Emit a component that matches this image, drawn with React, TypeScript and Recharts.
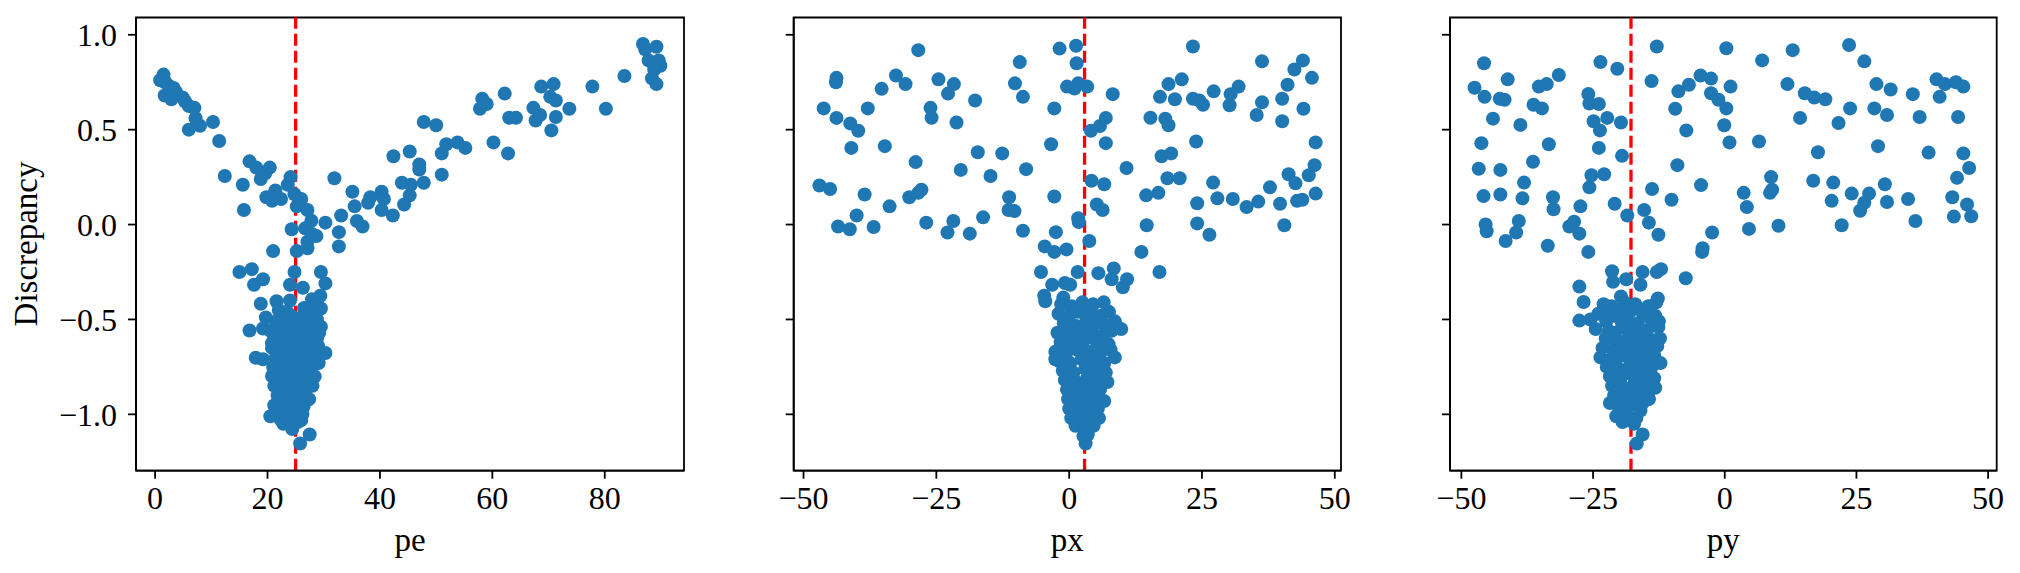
import React from 'react';
import { ScatterChart, Scatter, XAxis, YAxis, ReferenceLine, ReferenceArea } from 'recharts';

// ---------- data ----------
const Y_TICKS = [-1.0, -0.5, 0.0, 0.5, 1.0];
const Y_DOMAIN: [number, number] = [-1.297, 1.091];

const PE_TICKS = [0, 20, 40, 60, 80];
const PE_DOMAIN: [number, number] = [-3.4, 94.1];
const PE_MARK = 25;

const PX_TICKS = [-50, -25, 0, 25, 50];
const PX_DOMAIN: [number, number] = [-51.85, 51.17];
const PX_MARK = 2.9;

const PY_TICKS = [-50, -25, 0, 25, 50];
const PY_DOMAIN: [number, number] = [-52.16, 51.63];
const PY_MARK = -17.8;

const PE_POINTS: [number, number][] = [
  [1.3, 0.77], [1.5, 0.79], [0.9, 0.76], [1.8, 0.75], [2.5, 0.73], [3.3, 0.72], [1.7, 0.68], [2.9, 0.66],
  [3.7, 0.7], [4.9, 0.67], [5.3, 0.65], [6.0, 0.625], [7.0, 0.615], [7.2, 0.56], [8.0, 0.52], [6.0, 0.5],
  [10.3, 0.54], [11.4, 0.44], [12.4, 0.256], [15.6, 0.21], [15.8, 0.077], [16.8, 0.333], [18.0, 0.3],
  [18.8, 0.24], [19.6, 0.27], [20.4, 0.3], [19.8, 0.144], [20.8, 0.125], [21.4, 0.18], [22.4, 0.135],
  [23.6, 0.21], [24.1, 0.25], [24.8, 0.16], [26.0, 0.135], [25.2, 0.096], [27.1, 0.077], [27.8, 0.02],
  [26.7, -0.02], [24.3, -0.025], [27.9, -0.05], [28.7, -0.06], [27.1, -0.09], [25.2, -0.14], [21.0, -0.14],
  [27.1, -0.125], [31.9, 0.244], [30.3, 0.01], [32.7, -0.04], [32.7, -0.115], [33.1, 0.048], [35.1, 0.173],
  [35.5, 0.096], [35.9, 0.019], [36.9, -0.01], [38.3, 0.144], [37.9, 0.115], [40.3, 0.173], [40.3, 0.077],
  [40.7, 0.135], [42.3, 0.048], [42.4, 0.36], [44.3, 0.106], [43.9, 0.22], [45.3, 0.385], [45.3, 0.154],
  [45.5, 0.21], [47.0, 0.317], [47.0, 0.29], [47.8, 0.22], [47.8, 0.54], [50.0, 0.523], [51.0, 0.263],
  [51.0, 0.375], [51.8, 0.423], [53.8, 0.433], [55.2, 0.404], [57.8, 0.61], [58.2, 0.663], [59.0, 0.635],
  [60.2, 0.433], [62.2, 0.69], [62.8, 0.375], [63.0, 0.563], [64.2, 0.563], [67.3, 0.615], [67.7, 0.548],
  [68.5, 0.577], [68.7, 0.727], [70.5, 0.496], [70.9, 0.74], [70.3, 0.673], [71.3, 0.567], [71.3, 0.654],
  [73.7, 0.61], [77.8, 0.727], [80.2, 0.61], [83.5, 0.783], [86.8, 0.952], [87.2, 0.923], [89.2, 0.937],
  [87.8, 0.865], [89.6, 0.865], [88.4, 0.77], [89.2, 0.74], [89.9, 0.837], [88.8, 0.817],
  [15.0, -0.25], [17.2, -0.235], [17.6, -0.317], [19.2, -0.288], [24.8, -0.25], [24.0, -0.317],
  [26.3, -0.333], [29.5, -0.25], [30.3, -0.31], [18.8, -0.417], [21.6, -0.404], [24.0, -0.4], [27.9, -0.394],
  [29.4, -0.375], [29.5, -0.442], [19.7, -0.49], [16.8, -0.558], [19.2, -0.548], [29.5, -0.538], [23.2, -0.5],
  [17.9, -0.702], [19.2, -0.71], [20.8, -0.625], [30.3, -0.677], [29.1, -0.73], [27.9, -0.817], [20.8, -0.798],
  [20.5, -1.01], [21.2, -0.952], [22.4, -1.03], [24.4, -1.077], [26.0, -1.03], [27.5, -1.106], [25.8, -1.154],
  [27.1, -0.923], [23.2, -0.894],
  [22.0, -0.45], [23.5, -0.46], [26.5, -0.44], [27.5, -0.47], [28.5, -0.43],
  [21.5, -0.51], [22.8, -0.5], [24.5, -0.52], [26.0, -0.49], [27.2, -0.51], [28.8, -0.5],
  [20.5, -0.56], [22.0, -0.55], [23.5, -0.57], [25.5, -0.54], [27.0, -0.56], [28.2, -0.55], [29.2, -0.57],
  [21.2, -0.6], [22.6, -0.61], [24.0, -0.59], [26.2, -0.6], [27.6, -0.62], [28.8, -0.6],
  [20.8, -0.65], [22.2, -0.66], [23.6, -0.64], [25.0, -0.65], [26.6, -0.67], [28.0, -0.65], [29.0, -0.64],
  [21.5, -0.7], [23.0, -0.71], [24.4, -0.69], [25.8, -0.7], [27.2, -0.72], [28.4, -0.7],
  [21.0, -0.75], [22.4, -0.76], [23.8, -0.74], [25.2, -0.75], [26.6, -0.77], [27.9, -0.75],
  [21.6, -0.8], [23.0, -0.81], [24.4, -0.79], [25.6, -0.8], [27.0, -0.82], [28.4, -0.8],
  [21.2, -0.85], [22.6, -0.86], [24.0, -0.84], [25.4, -0.85], [26.8, -0.87], [28.0, -0.85],
  [21.8, -0.9], [23.2, -0.91], [24.6, -0.89], [26.0, -0.9], [27.4, -0.92],
  [22.4, -0.95], [23.8, -0.96], [25.2, -0.94], [26.4, -0.96],
  [21.6, -1.0], [23.0, -1.01], [24.6, -0.99], [26.2, -1.0],
  [22.8, -1.05], [24.2, -1.06], [25.4, -1.04],
  [24.2, -0.48], [25.6, -0.58], [22.9, -0.63], [24.8, -0.73], [26.3, -0.83], [22.6, -0.88], [25.0, -0.97],
  [23.9, -1.02], [28.9, -0.72], [27.8, -0.6], [25.3, -0.68], [24.9, -0.82], [23.3, -0.78], [22.0, -0.72],
];

const PX_POINTS: [number, number][] = [
  [-46.2, 0.612], [-47.0, 0.206], [-45.0, 0.187], [-43.8, 0.773], [-43.9, 0.75], [-43.8, 0.562], [-43.5, -0.01],
  [-41.2, 0.533], [-41.0, 0.404], [-41.3, -0.025], [-40.0, 0.048], [-39.7, 0.494], [-38.5, 0.158], [-37.9, 0.612],
  [-36.8, -0.013], [-35.3, 0.715], [-34.7, 0.413], [-33.8, 0.096], [-32.6, 0.785], [-30.8, 0.74], [-30.1, 0.144],
  [-28.9, 0.329], [-28.4, 0.167], [-27.8, 0.183], [-28.4, 0.919], [-26.9, 0.01], [-26.1, 0.615], [-25.9, 0.563],
  [-24.6, 0.765], [-22.8, 0.69], [-21.7, 0.74], [-22.9, -0.042], [-21.8, 0.019], [-21.2, 0.538], [-20.4, 0.288],
  [-18.7, -0.048], [-17.7, 0.654], [-17.2, 0.381], [-16.2, 0.038], [-14.8, 0.256], [-12.6, 0.375], [-11.3, 0.144],
  [-11.4, 0.077], [-10.3, 0.071], [-10.2, 0.744], [-9.3, 0.856], [-8.7, 0.673], [-8.1, 0.292], [-8.7, -0.033],
  [-5.3, -0.25], [-4.6, -0.115], [-4.7, -0.375], [-4.5, -0.404], [-3.4, 0.423], [-3.2, -0.317], [-2.8, 0.612],
  [-2.8, 0.148], [-2.5, -0.04], [-2.8, -0.144], [-1.8, 0.927], [-0.8, -0.308], [-0.5, -0.131], [-0.4, 0.727],
  [0.2, -0.317], [-1.1, -0.385], [1.3, 0.942], [1.4, 0.85], [1.7, 0.744], [1.0, 0.717], [1.6, -0.25], [1.7, 0.033],
  [1.8, 0.013], [3.4, 0.727], [3.8, -0.087], [4.1, 0.494], [4.2, 0.231], [5.2, 0.106], [5.5, -0.256], [5.8, 0.519],
  [6.3, 0.077], [6.6, 0.212], [6.9, 0.562], [6.9, 0.429], [8.2, 0.687], [8.4, -0.231], [8.0, -0.288], [10.1, -0.331],
  [10.9, -0.288], [10.8, 0.298], [13.6, -0.144], [14.5, 0.154], [14.6, -0.004], [15.3, 0.563], [16.8, 0.167],
  [17.0, -0.25], [17.1, 0.673], [17.4, 0.36], [18.1, 0.558], [18.7, 0.74], [18.7, 0.523], [18.5, 0.244], [19.2, 0.375],
  [19.9, 0.66], [20.8, 0.244], [21.2, 0.765], [23.3, 0.938], [23.3, 0.663], [23.9, 0.438], [24.1, 0.112], [24.1, 0.006],
  [24.5, 0.654], [25.2, 0.631], [26.4, -0.054], [27.1, 0.221], [27.2, 0.702], [27.9, 0.138], [30.2, 0.629], [30.4, 0.687],
  [30.8, 0.135], [31.9, 0.727], [33.4, 0.092], [35.3, 0.577], [35.6, 0.121], [36.3, 0.86], [36.3, 0.644], [37.8, 0.196],
  [39.7, 0.11], [40.1, 0.663], [40.1, 0.544], [40.5, -0.004], [41.1, 0.737], [41.3, 0.265], [42.4, 0.817], [42.6, 0.217],
  [42.9, 0.125], [43.9, 0.131], [44.0, 0.865], [44.1, 0.61], [45.1, 0.26], [45.7, 0.773], [46.2, 0.313], [46.4, 0.433],
  [46.4, 0.163],
  [-1.5, -0.42], [0.5, -0.43], [2.5, -0.41], [4.5, -0.42], [6.5, -0.41],
  [-2.0, -0.47], [0.0, -0.48], [1.8, -0.46], [4.0, -0.47], [6.0, -0.48], [7.5, -0.46],
  [-1.0, -0.52], [1.0, -0.53], [3.2, -0.51], [5.0, -0.52], [7.0, -0.53], [8.6, -0.51],
  [-2.2, -0.57], [-0.3, -0.58], [2.0, -0.56], [4.2, -0.57], [6.4, -0.58], [8.0, -0.56], [9.8, -0.55],
  [-1.6, -0.62], [0.5, -0.63], [2.8, -0.61], [5.2, -0.62], [7.4, -0.63],
  [-2.6, -0.67], [-0.6, -0.68], [1.5, -0.66], [3.6, -0.67], [5.8, -0.68], [7.8, -0.66],
  [-2.6, -0.71], [-1.8, -0.72], [0.2, -0.73], [2.4, -0.71], [4.6, -0.72], [6.6, -0.73], [8.6, -0.7],
  [-1.2, -0.77], [0.8, -0.78], [3.0, -0.76], [5.0, -0.77], [6.9, -0.78],
  [-0.8, -0.82], [1.3, -0.83], [3.4, -0.81], [5.6, -0.82], [7.2, -0.83],
  [-0.4, -0.87], [1.8, -0.88], [3.8, -0.86], [5.8, -0.87],
  [-0.2, -0.92], [1.4, -0.93], [3.2, -0.91], [5.0, -0.92], [6.6, -0.93],
  [0.0, -0.97], [2.0, -0.98], [3.8, -0.96], [5.4, -0.97],
  [0.4, -1.02], [2.4, -1.03], [4.2, -1.01], [5.6, -1.02],
  [1.2, -1.06], [3.0, -1.07], [4.6, -1.06],
  [2.7, -1.115], [3.1, -1.154], [3.5, -1.106],
  [3.5, -0.45], [2.1, -0.64], [4.4, -0.79], [2.6, -0.85], [1.0, -0.95], [3.6, -1.04], [6.2, -0.75], [0.9, -0.58],
];

const PY_POINTS: [number, number][] = [
  [-47.5, 0.721], [-46.7, 0.294], [-46.2, 0.429], [-45.8, 0.15], [-45.7, 0.85], [-45.6, 0.673], [-45.4, 0.0],
  [-45.2, -0.035], [-44.0, 0.558], [-42.7, 0.663], [-42.6, 0.288], [-42.6, 0.158], [-41.8, 0.658], [-41.6, -0.087],
  [-41.2, 0.765], [-39.6, -0.042], [-39.1, 0.019], [-38.8, 0.525], [-38.4, 0.138], [-38.1, 0.221], [-36.3, 0.631],
  [-36.4, 0.331], [-35.3, 0.727], [-34.7, 0.612], [-33.8, 0.74], [-33.6, -0.112], [-33.4, 0.423], [-32.6, 0.144],
  [-32.5, 0.081], [-31.5, 0.788], [-29.5, -0.01], [-28.6, 0.015], [-27.6, -0.048], [-27.6, -0.327], [-27.4, 0.096],
  [-26.8, -0.408], [-27.6, -0.506], [-25.9, -0.144], [-25.9, 0.688], [-25.7, 0.638], [-25.7, 0.196], [-25.3, 0.26],
  [-24.9, 0.544], [-23.9, 0.635], [-23.9, 0.404], [-23.7, 0.496], [-23.6, 0.856], [-22.9, 0.265], [-22.3, 0.562],
  [-21.4, -0.246], [-21.2, -0.302], [-20.9, 0.11], [-20.4, 0.821], [-19.7, 0.538], [-19.5, 0.362], [-19.7, -0.379],
  [-18.5, 0.048], [-18.7, -0.288], [-16.0, -0.317], [-15.6, -0.25], [-15.3, 0.077], [-14.4, 0.01], [-13.8, 0.187],
  [-13.9, 0.756], [-12.9, 0.938], [-12.6, -0.054], [-12.9, -0.25], [-12.1, -0.235], [-12.7, -0.39], [-10.1, 0.131],
  [-9.4, 0.61], [-9.0, 0.313], [-8.8, 0.702], [-7.4, -0.283], [-7.3, 0.496], [-6.8, 0.737], [-4.6, 0.785],
  [-4.5, 0.208], [-4.3, -0.144], [-4.2, -0.125], [-2.6, 0.769], [-2.6, 0.692], [-2.4, -0.042], [-1.2, 0.658],
  [-0.1, 0.523], [0.3, 0.612], [0.3, 0.929], [0.9, 0.433], [1.1, 0.727], [3.6, 0.167], [4.2, 0.092], [4.6, -0.023],
  [6.5, 0.438], [7.1, 0.865], [8.6, 0.167], [8.8, 0.25], [9.0, 0.183], [10.2, -0.006], [11.9, 0.74], [12.9, 0.919],
  [14.3, 0.562], [15.2, 0.692], [16.8, 0.231], [17.0, 0.669], [17.7, 0.381], [19.1, 0.66], [20.3, 0.125], [20.6, 0.221],
  [21.6, 0.535], [22.2, -0.004], [23.6, 0.946], [23.8, 0.612], [24.1, 0.163], [25.7, 0.073], [26.5, 0.115], [26.5, 0.86],
  [27.4, 0.163], [28.4, 0.612], [28.8, 0.74], [29.1, 0.413], [30.4, 0.212], [30.8, 0.577], [30.8, 0.119], [31.5, 0.712],
  [34.8, 0.135], [35.7, 0.687], [36.2, 0.019], [37.0, 0.567], [38.7, 0.379], [40.2, 0.765], [40.8, 0.673], [41.8, 0.74],
  [43.2, 0.144], [43.5, 0.042], [43.9, 0.75], [44.1, 0.246], [44.3, 0.567], [45.3, 0.727], [45.3, 0.375], [46.0, 0.106],
  [46.4, 0.298], [46.8, 0.044],
  [-23.0, -0.42], [-21.5, -0.43], [-19.0, -0.41], [-17.0, -0.42], [-14.5, -0.43], [-13.0, -0.41],
  [-24.0, -0.47], [-21.0, -0.48], [-18.0, -0.46], [-15.5, -0.47], [-13.2, -0.48],
  [-25.5, -0.5], [-22.5, -0.51], [-19.8, -0.5], [-16.5, -0.52], [-14.0, -0.5], [-12.5, -0.51],
  [-24.5, -0.55], [-22.0, -0.56], [-19.5, -0.54], [-17.0, -0.55], [-14.8, -0.56], [-12.6, -0.54],
  [-22.6, -0.6], [-20.5, -0.61], [-18.2, -0.59], [-16.0, -0.6], [-13.6, -0.61], [-12.3, -0.6],
  [-23.2, -0.65], [-21.2, -0.66], [-19.0, -0.64], [-16.8, -0.65], [-14.6, -0.66], [-12.8, -0.64],
  [-23.6, -0.7], [-21.6, -0.71], [-19.6, -0.69], [-17.4, -0.7], [-15.2, -0.71], [-13.4, -0.69], [-12.2, -0.73],
  [-22.4, -0.75], [-20.2, -0.76], [-18.0, -0.74], [-16.0, -0.75], [-14.0, -0.76],
  [-21.8, -0.8], [-19.8, -0.81], [-17.6, -0.79], [-15.4, -0.8], [-13.4, -0.81],
  [-21.4, -0.85], [-19.2, -0.86], [-17.2, -0.84], [-15.0, -0.85], [-13.2, -0.86],
  [-21.0, -0.9], [-18.8, -0.91], [-16.6, -0.89], [-14.6, -0.9],
  [-21.8, -0.94], [-19.6, -0.96], [-17.6, -0.95], [-15.6, -0.94], [-14.4, -0.92],
  [-20.6, -1.01], [-18.6, -1.0], [-16.8, -1.02],
  [-19.4, -1.04], [-17.2, -1.05],
  [-15.6, -1.106], [-16.7, -1.154],
  [-20.2, -0.45], [-16.0, -0.45], [-18.0, -0.52], [-20.8, -0.57], [-15.8, -0.57], [-17.4, -0.62], [-19.8, -0.62],
  [-14.6, -0.62], [-18.2, -0.67], [-15.6, -0.68], [-20.8, -0.73], [-16.6, -0.73], [-19.0, -0.78], [-16.8, -0.81],
  [-20.4, -0.88], [-18.2, -0.87], [-16.0, -0.88], [-14.2, -0.83], [-19.8, -0.92], [-17.6, -0.92], [-16.0, -0.98],
  [-18.0, -1.03], [-20.0, -0.98], [-14.2, -0.72], [-22.6, -0.47],
];

// ---------- styling ----------
const FONT = '"Liberation Serif", "DejaVu Serif", serif';
const BLUE = '#1f77b4';
const AXIS = '#000000';

const minus = (s: string) => s.replace('-', '\u2212');
const fmtY = (v: number) => minus(v.toFixed(1));
const fmtX = (v: number) => minus(String(v));

const Dot = (p: any) => <circle cx={p.cx} cy={p.cy} r={7} fill={BLUE} />;

type PanelProps = {
  left: number;
  width: number;
  yAxisWidth: number;
  marginRight: number;
  points: [number, number][];
  xDomain: [number, number];
  xTicks: number[];
  mark: number;
  xLabel: string;
  showYLabels: boolean;
};

const Panel = ({ left, width, yAxisWidth, marginRight, points, xDomain, xTicks, mark, xLabel, showYLabels }: PanelProps) => {
  const data = points.map(([x, y]) => ({ x, y }));
  return (
    <div style={{ position: 'absolute', left, top: 0 }}>
      <ScatterChart width={width} height={573} margin={{ top: 17.5, right: marginRight, bottom: 0, left: 0 }}>
        <XAxis
          type="number"
          dataKey="x"
          domain={xDomain}
          ticks={xTicks}
          allowDataOverflow
          height={102.3}
          tickSize={8}
          tickMargin={8}
          tickFormatter={fmtX}
          axisLine={{ stroke: AXIS, strokeWidth: 1.8 }}
          tickLine={{ stroke: AXIS, strokeWidth: 1.8 }}
          tick={{ fill: '#000', fontSize: 32, fontFamily: FONT }}
          label={{ value: xLabel, position: 'insideBottom', offset: 22, fill: '#000', fontSize: 33, fontFamily: FONT }}
        />
        <YAxis
          type="number"
          dataKey="y"
          domain={Y_DOMAIN}
          ticks={Y_TICKS}
          allowDataOverflow
          width={yAxisWidth}
          tickSize={8}
          tickMargin={11}
          tickFormatter={showYLabels ? fmtY : () => ''}
          axisLine={{ stroke: AXIS, strokeWidth: 1.8 }}
          tickLine={{ stroke: AXIS, strokeWidth: 1.8 }}
          tick={{ fill: '#000', fontSize: 32, fontFamily: FONT }}
          label={
            showYLabels
              ? {
                  content: () => (
                    <text
                      x={37}
                      y={244}
                      transform="rotate(-90 37 244)"
                      textAnchor="middle"
                      fill="#000"
                      fontSize={33}
                      fontFamily={FONT}
                    >
                      Discrepancy
                    </text>
                  ),
                }
              : undefined
          }
        />
        <Scatter data={data} shape={Dot} isAnimationActive={false} />
        <ReferenceLine x={mark} stroke="#ff0000" strokeWidth={3.3} strokeDasharray="12 5" />
        <ReferenceArea
          x1={xDomain[0]}
          x2={xDomain[1]}
          y1={Y_DOMAIN[0]}
          y2={Y_DOMAIN[1]}
          fill="none"
          fillOpacity={0}
          stroke={AXIS}
          strokeWidth={1.8}
          strokeOpacity={1}
        />
      </ScatterChart>
    </div>
  );
};

export default function App() {
  return (
    <div style={{ position: 'absolute', left: 0, top: 0, width: 2020, height: 573, background: '#fff', overflow: 'hidden' }}>
      <Panel left={0} width={700} yAxisWidth={136} marginRight={16} points={PE_POINTS} xDomain={PE_DOMAIN} xTicks={PE_TICKS} mark={PE_MARK} xLabel="pe" showYLabels />
      <Panel left={700} width={660} yAxisWidth={93.7} marginRight={19} points={PX_POINTS} xDomain={PX_DOMAIN} xTicks={PX_TICKS} mark={PX_MARK} xLabel="px" showYLabels={false} />
      <Panel left={1360} width={660} yAxisWidth={90} marginRight={23.3} points={PY_POINTS} xDomain={PY_DOMAIN} xTicks={PY_TICKS} mark={PY_MARK} xLabel="py" showYLabels={false} />
    </div>
  );
}
